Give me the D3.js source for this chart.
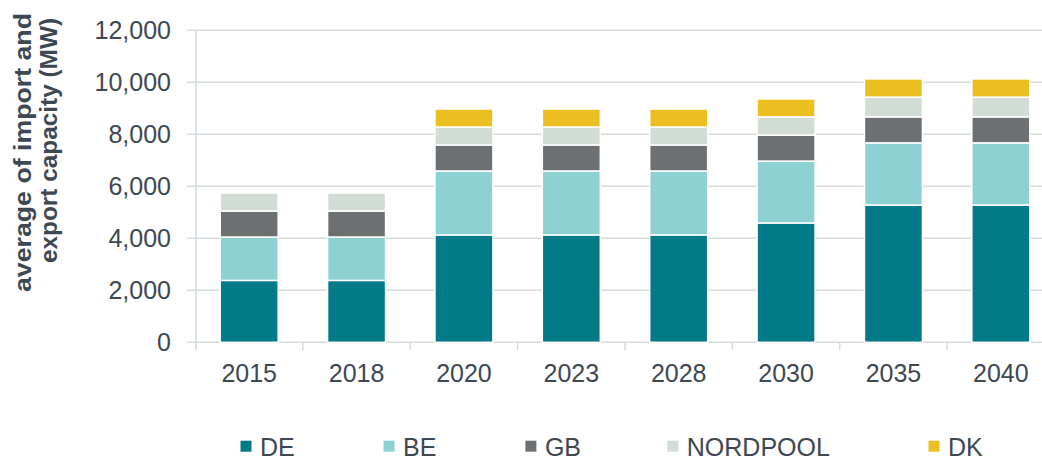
<!DOCTYPE html>
<html>
<head>
<meta charset="utf-8">
<script src="https://cdn.jsdelivr.net/npm/d3@7"></script>
<style>
	body { margin: 0; background: #fff; }
	text { font-family: "Liberation Sans", Arial, sans-serif; fill: #3d4852; }
</style>
</head>
<body>
<div id="chart"></div>
<script>
// data
var years = ["2015", "2018", "2020", "2023", "2028", "2030", "2035", "2040"];
var seriesNames = ["DE", "BE", "GB", "NORDPOOL", "DK"];
var deValues = [2380, 2380, 4130, 4130, 4130, 4590, 5280, 5280];
var beValues = [1670, 1670, 2460, 2460, 2460, 2380, 2390, 2390];
var gbValues = [1000, 1000, 1000, 1000, 1000, 1000, 1000, 1000];
var nordpoolValues = [690, 690, 690, 690, 690, 700, 760, 760];
var dkValues = [0, 0, 690, 690, 690, 690, 700, 700];
var yTicks = [0, 2000, 4000, 6000, 8000, 10000, 12000];

var colors = ["#037a87", "#8dd1d2", "#6d7073", "#d1dcd4", "#ebbf1f"];
var gridColor = "#d3ddd5";

var width = 1042, height = 456;

var rows = years.map(function (y, i) {
	return { year: y, DE: deValues[i], BE: beValues[i], GB: gbValues[i], NORDPOOL: nordpoolValues[i], DK: dkValues[i] };
});

var svg = d3.select("#chart").append("svg")
	.attr("width", width)
	.attr("height", height);

var x = d3.scaleBand().domain(years).range([195.5, 1054.5])
	.paddingInner(0.46).paddingOuter(0.23);
var y = d3.scaleLinear().domain([0, 12000]).range([342.3, 30.3]);

// gridlines
svg.append("g").selectAll("line").data(yTicks).enter().append("line")
	.attr("x1", 187).attr("x2", width)
	.attr("y1", function (d) { return y(d); })
	.attr("y2", function (d) { return y(d); })
	.attr("stroke", gridColor).attr("stroke-width", 1.5);

// y axis line
svg.append("line")
	.attr("x1", 196).attr("x2", 196)
	.attr("y1", y(12000)).attr("y2", y(0) + 8)
	.attr("stroke", gridColor).attr("stroke-width", 1.5);

// x ticks between categories
var step = x.step();
svg.append("g").selectAll("line").data(years.slice(1)).enter().append("line")
	.attr("x1", function (d) { return x(d) - step * 0.23; })
	.attr("x2", function (d) { return x(d) - step * 0.23; })
	.attr("y1", y(0)).attr("y2", y(0) + 8)
	.attr("stroke", gridColor).attr("stroke-width", 1.5);

// y tick labels
svg.append("g").selectAll("text").data(yTicks).enter().append("text")
	.attr("x", 171)
	.attr("y", function (d) { return y(d); })
	.attr("dy", "0.36em")
	.attr("text-anchor", "end")
	.style("font-size", "25px")
	.text(d3.format(","));

// x labels
svg.append("g").selectAll("text").data(years).enter().append("text")
	.attr("x", function (d) { return x(d) + x.bandwidth() / 2; })
	.attr("y", 381.7)
	.attr("text-anchor", "middle")
	.style("font-size", "25px")
	.text(function (d) { return d; });

// stacked bars
var stacked = d3.stack().keys(seriesNames)(rows);
svg.append("g").selectAll("g").data(stacked).enter().append("g")
	.attr("fill", function (d, i) { return colors[i]; })
	.selectAll("rect").data(function (d) { return d.filter(function (p) { return p[1] > p[0]; }); })
	.enter().append("rect")
	.attr("x", function (d) { return x(d.data.year); })
	.attr("width", x.bandwidth())
	.attr("y", function (d) { return y(d[1]); })
	.attr("height", function (d) { return y(d[0]) - y(d[1]); })
	.attr("stroke", "#fff")
	.attr("stroke-width", 1.5);

// y axis title
var title = svg.append("g");
title.append("text")
	.attr("transform", "translate(31,152.5) rotate(-90)")
	.attr("text-anchor", "middle")
	.attr("textLength", 279).attr("lengthAdjust", "spacingAndGlyphs")
	.style("font-size", "24px").style("font-weight", "bold")
	.text("average of import and");
title.append("text")
	.attr("transform", "translate(57,140.5) rotate(-90)")
	.attr("text-anchor", "middle")
	.attr("textLength", 245).attr("lengthAdjust", "spacingAndGlyphs")
	.style("font-size", "24px").style("font-weight", "bold")
	.text("export capacity (MW)");

// legend
var legendX = [240.5, 383.5, 525.4, 667.3, 928.5];
var legend = svg.append("g").selectAll("g").data(seriesNames).enter().append("g")
	.attr("transform", function (d, i) { return "translate(" + legendX[i] + ",0)"; });
legend.append("rect")
	.attr("x", 0).attr("y", 440.7)
	.attr("width", 11).attr("height", 11)
	.attr("fill", function (d, i) { return colors[i]; });
legend.append("text")
	.attr("x", 19.5).attr("y", 456.3)
	.style("font-size", "25px")
	.text(function (d) { return d; });
</script>
</body>
</html>
